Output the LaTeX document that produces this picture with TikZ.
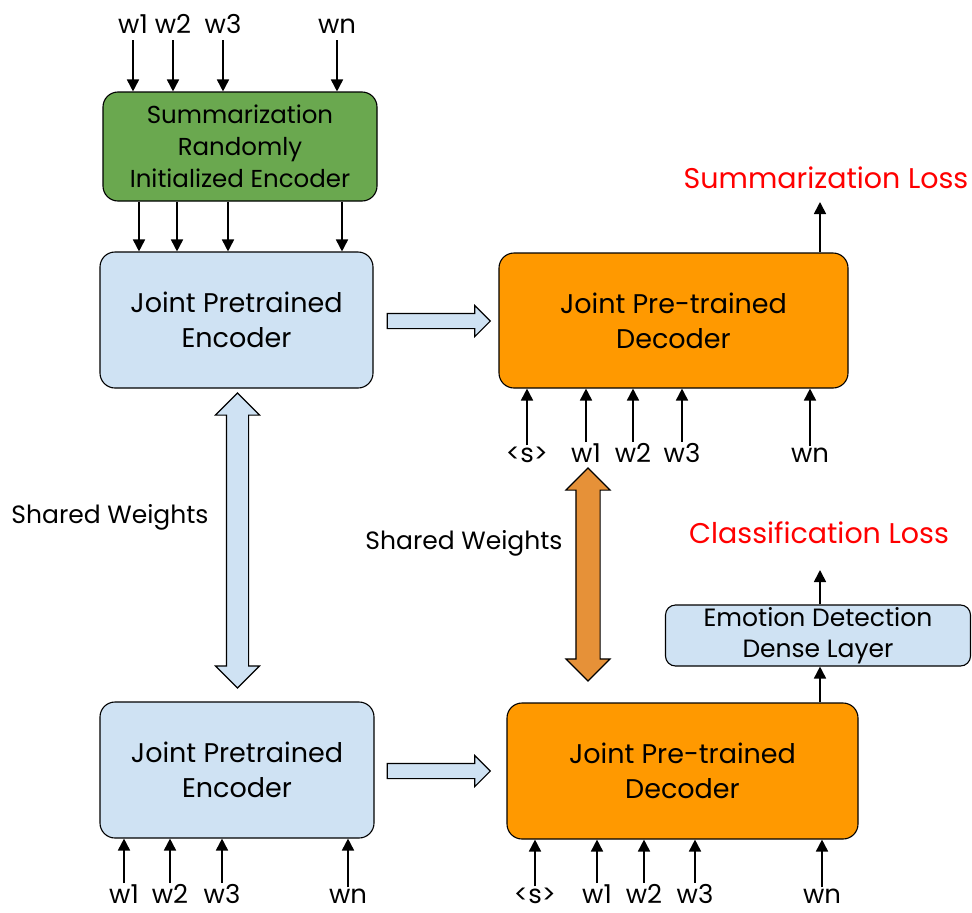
\documentclass[tikz,border=0pt]{standalone}
\usepackage{fontspec}
\setmainfont{Poppins}
\usetikzlibrary{shapes.arrows,arrows.meta}

\definecolor{vert}{HTML}{6AA84F}
\definecolor{bleu}{HTML}{CFE2F3}
\definecolor{orange}{HTML}{FF9900}
\definecolor{orangefonce}{HTML}{E69138}
\definecolor{rouge}{HTML}{FF0000}

\begin{document}
\begin{tikzpicture}[x=1pt,y=-1pt]
	\tikzset{bloc/.style={draw=black, line width=1.1pt, rounded corners=15pt, align=center, text centered, inner sep=0pt, font=\fontsize{27}{35}\selectfont},
	fleche/.style={-{Triangle[length=12pt,width=12pt]}, line width=1.7pt},
	mot/.style={inner sep=1pt, anchor=base, font=\fontsize{26}{26}\selectfont},
	perte/.style={text=rouge, inner sep=0pt, font=\fontsize{28.5}{28.5}\selectfont},
	poids/.style={inner sep=0pt, font=\fontsize{25}{25}\selectfont},
	transfert/.style={single arrow, draw=black, line width=1.1pt, fill=bleu, inner xsep=0pt, inner ysep=7pt, minimum height=103pt, single arrow head extend=8pt},
	partage/.style={double arrow, draw=black, line width=1.1pt, inner xsep=0pt, rotate=90}};

	\useasboundingbox (0,0) rectangle (972,913);

	\node[bloc, fill=vert, minimum width=274pt, minimum height=109pt, font=\fontsize{24.5}{32}\selectfont] (resume) at (240, 146.5) {Summarization\\Randomly\\Initialized Encoder};
	\node[bloc, fill=bleu, minimum width=273pt, minimum height=136pt] (enc1) at (236.5, 320) {Joint Pretrained\\Encoder};
	\node[bloc, fill=orange, minimum width=349pt, minimum height=135pt] (dec1) at (673.5, 320.5) {Joint Pre-trained\\Decoder};
	\node[bloc, fill=bleu, minimum width=274pt, minimum height=136pt] (enc2) at (237, 770) {Joint Pretrained\\Encoder};
	\node[bloc, fill=orange, minimum width=351pt, minimum height=136pt] (dec2) at (682.5, 771) {Joint Pre-trained\\Decoder};
	\node[bloc, fill=bleu, rounded corners=10pt, minimum width=305pt, minimum height=61pt, font=\fontsize{25}{31}\selectfont] (emotion) at (818, 635.5) {Emotion Detection\\Dense Layer};

	\foreach \x/\ytext in {133/w1, 173/w2, 223/w3, 337/wn}{
		\node[mot] (h\ytext) at (\x, 33) {\ytext};
		\draw[fleche] ([yshift=-7pt]h\ytext.base) -- (h\ytext.base |- resume.north);
	}

	\foreach \x in {139, 177, 228, 342}{
		\draw[fleche] (resume.south -| \x,0) -- (enc1.north -| \x,0);
	}

	\foreach \x/\ytext in {124/w1, 170/w2, 222/w3, 348/wn}{
		\node[mot] (b\ytext) at (\x, 903) {\ytext};
		\draw[fleche] (b\ytext.north) -- (b\ytext.north |- enc2.south);
	}

	\foreach \x/\ytext/\nom in {527/<s>/s, 586/w1/w1, 633/w2/w2, 682/w3/w3, 810/wn/wn}{
		\node[mot] (d\nom) at (\x, 462) {\ytext};
		\draw[fleche] (d\nom.north) -- (d\nom.north |- dec1.south);
	}

	\foreach \x/\ytext/\nom in {535/<s>/s, 597/w1/w1, 644/w2/w2, 695/w3/w3, 822/wn/wn}{
		\node[mot] (e\nom) at (\x, 903) {\ytext};
		\draw[fleche] (e\nom.north) -- (e\nom.north |- dec2.south);
	}

	\node[transfert] (t1) at (435, 321) {};
	\node[transfert] (t2) at (435, 771) {};

	\node[partage, fill=bleu, inner ysep=10.5pt, double arrow head extend=11pt, minimum height=295pt] (p1) at (237.5, 540.5) {};
	\node[partage, fill=orangefonce, inner ysep=11.5pt, double arrow head extend=10pt, minimum height=213pt] (p2) at (588, 574.5) {};

	\node[poids] (sw1) at (110, 517) {Shared Weights};
	\node[poids] (sw2) at (464, 543) {Shared Weights};

	\node[perte] (pr) at (826, 178) {Summarization Loss};
	\node[perte] (pc) at (819, 533) {Classification Loss};

	\coordinate (c1) at (820, 202);
	\coordinate (c2) at (820, 570);
	\draw[fleche] (dec1.north -| c1) -- (c1);
	\draw[fleche] (emotion.north -| c2) -- (c2);
	\draw[fleche] (dec2.north -| c2) -- (emotion.south -| c2);

\end{tikzpicture}
\end{document}
